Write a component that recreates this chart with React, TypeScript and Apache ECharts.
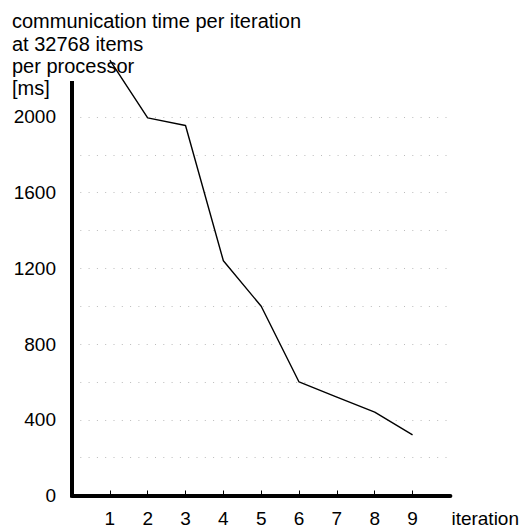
import React, { useEffect, useRef } from "react";
import * as echarts from "echarts";

const iterations = [1, 2, 3, 4, 5, 6, 7, 8, 9];
const commTimeMs = [2300, 1995, 1955, 1240, 1000, 600, 520, 440, 320];
const yTickLabels = [0, 400, 800, 1200, 1600, 2000];
const titleLines = [
  "communication time per iteration",
  "at 32768 items",
  "per processor",
  "[ms]",
];
const xAxisName = "iteration";

const FONT = "Liberation Sans, Arial, Helvetica, sans-serif";

export default function App() {
  const ref = useRef<HTMLDivElement>(null);
  useEffect(() => {
    if (!ref.current) return;
    const chart = echarts.init(ref.current, null, { renderer: "svg" });
    chart.setOption({
      animation: false,
      backgroundColor: "#ffffff",
      textStyle: { fontFamily: FONT },
      title: {
        text: titleLines.join("\n"),
        left: 12,
        top: 10,
        padding: 0,
        textStyle: {
          fontFamily: FONT,
          fontSize: 20,
          fontWeight: "normal",
          color: "#000",
          lineHeight: 22.4,
        },
      },
      grid: { left: 72, right: 71.3, top: 82.9, bottom: 33.5, containLabel: false },
      xAxis: {
        type: "value",
        min: 0,
        max: 10,
        interval: 1,
        name: xAxisName,
        nameLocation: "end",
        nameGap: 1,
        nameTextStyle: {
          fontFamily: FONT,
          fontSize: 19,
          color: "#000",
          align: "left",
          verticalAlign: "top",
          padding: [13, 0, 0, 0],
        },
        axisLine: { show: true, onZero: false, lineStyle: { color: "#000", width: 4 } },
        axisTick: {
          show: true,
          inside: true,
          length: 5,
          customValues: iterations,
          lineStyle: { color: "#000", width: 1 },
        },
        axisLabel: {
          fontFamily: FONT,
          fontSize: 19,
          color: "#000",
          margin: 13,
          customValues: iterations,
          formatter: (v: number) => (iterations.includes(v) ? String(v) : ""),
        },
        splitLine: { show: false },
      },
      yAxis: {
        type: "value",
        min: 0,
        max: 2180,
        interval: 200,
        axisLine: { show: true, lineStyle: { color: "#000", width: 4, cap: "square" } },
        axisTick: { show: false },
        axisLabel: {
          fontFamily: FONT,
          fontSize: 19,
          color: "#000",
          margin: 16,
          padding: [3, 0, 0, 0],
          showMaxLabel: false,
          formatter: (v: number) => (yTickLabels.includes(v) ? String(v) : ""),
        },
        splitLine: {
          show: true,
          showMinLine: false,
          showMaxLine: false,
          lineStyle: { color: "#bbbbbb", width: 1, type: [1, 7.3] },
        },
      },
      series: [
        {
          type: "line",
          data: iterations.map((x, i) => [x, commTimeMs[i]]),
          showSymbol: false,
          symbol: "none",
          clip: false,
          lineStyle: { color: "#000", width: 1.4 },
          itemStyle: { color: "#000" },
        },
      ],
    });
    return () => chart.dispose();
  }, []);
  return (
    <div
      ref={ref}
      style={{ position: "fixed", left: 0, top: 0, width: 522, height: 529 }}
    />
  );
}
